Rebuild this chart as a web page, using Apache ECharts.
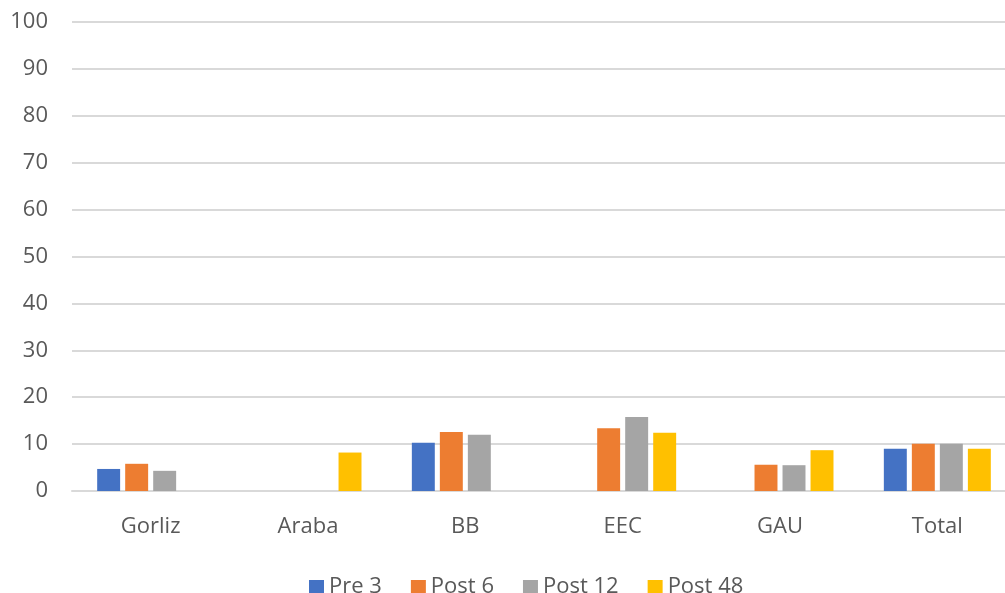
<!DOCTYPE html>
<html>
<head>
<meta charset="utf-8">
<script src="https://cdn.jsdelivr.net/npm/echarts@6/dist/echarts.min.js"></script>
<style>
  html, body { margin: 0; padding: 0; background: #fff; }
  #chart { width: 1005px; height: 593px; }
</style>
</head>
<body>
<div id="chart"></div>
<script>
// Sites and time points
const categories = ['Gorliz', 'Araba', 'BB', 'EEC', 'GAU', 'Total'];
const pre3   = [4.7, null, 10.3, null, null, 9.0];
const post6  = [5.8, null, 12.6, 13.4, 5.6, 10.1];
const post12 = [4.3, null, 12.0, 15.8, 5.5, 10.1];
const post48 = [null, 8.2, null, 12.4, 8.7, 9.0];
const seriesNames = ['Pre 3', 'Post 6', 'Post 12', 'Post 48'];
const colors = ['#4472C4', '#ED7D31', '#A5A5A5', '#FFC000'];

const font = '"Open Sans", "Liberation Sans", sans-serif';
const textColor = '#595959';
const fontSize = 22;

const chart = echarts.init(document.getElementById('chart'));
const seriesData = [pre3, post6, post12, post48];

chart.setOption({
  animation: false,
  color: colors,
  // plot area runs slightly past the right edge of the canvas
  grid: { left: 72, width: 944, top: 22, bottom: 102, outerBoundsMode: 'none', containLabel: false },
  legend: {
    top: 571,
    left: 304,
    itemWidth: 15,
    itemHeight: 14,
    itemGap: 29,
    icon: 'rect',
    textStyle: { color: textColor, fontSize: fontSize, fontFamily: font },
    data: seriesNames
  },
  xAxis: {
    type: 'category',
    data: categories,
    axisLine: { lineStyle: { color: '#d9d9d9', width: 2 } },
    axisTick: { show: false },
    axisLabel: { color: textColor, fontSize: fontSize, fontFamily: font, margin: 25 }
  },
  yAxis: {
    type: 'value',
    min: 0,
    max: 100,
    interval: 10,
    axisLine: { show: false },
    axisTick: { show: false },
    splitLine: { lineStyle: { color: '#d9d9d9', width: 2 } },
    axisLabel: { color: textColor, fontSize: fontSize, fontFamily: font, margin: 24 }
  },
  series: seriesData.map((d, i) => ({
    name: seriesNames[i],
    type: 'bar',
    data: d,
    barGap: '22%',
    barCategoryGap: '32%'
  }))
});
</script>
</body>
</html>
